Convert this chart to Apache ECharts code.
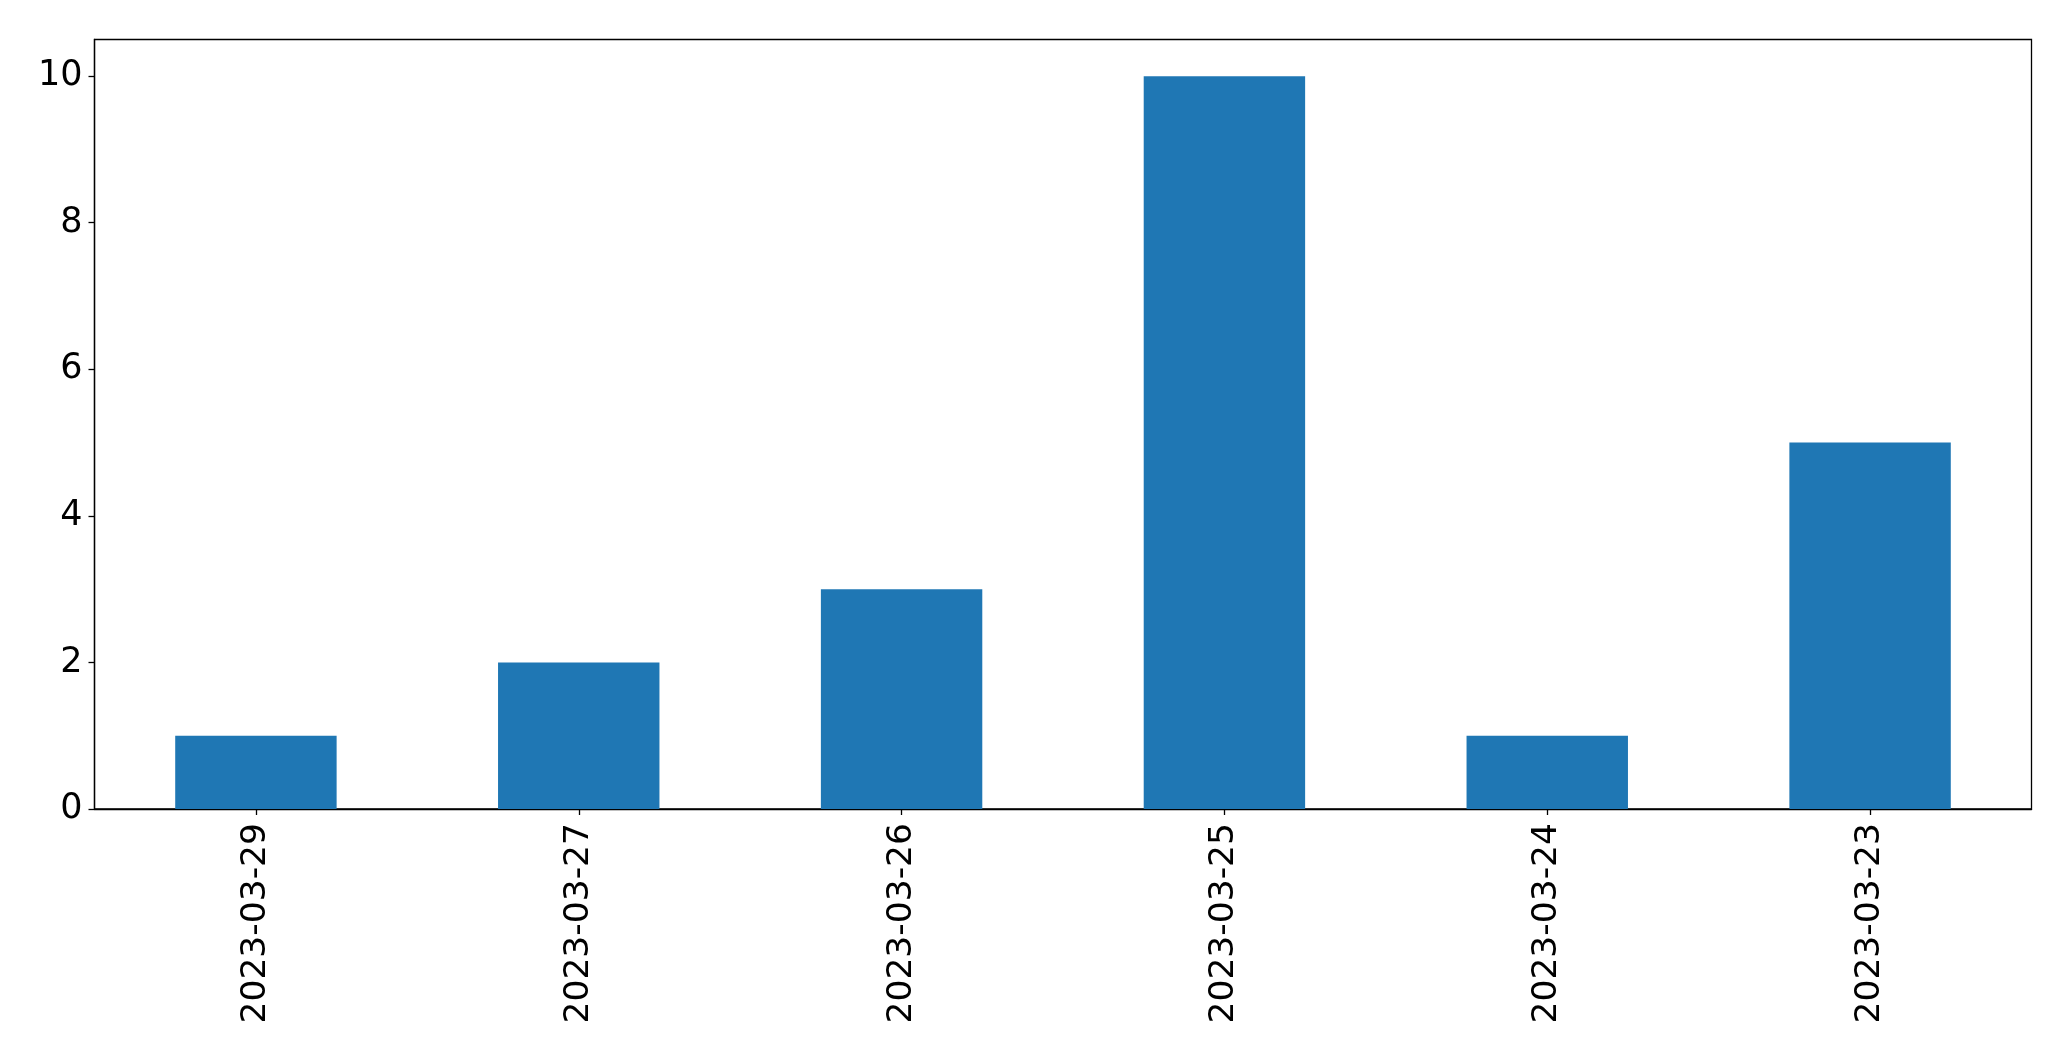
<!DOCTYPE html>
<html>
<head>
<meta charset="utf-8">
<script src="https://cdn.jsdelivr.net/npm/echarts@6/dist/echarts.min.js"></script>
<style>
html,body{margin:0;padding:0;background:#fff;}
#chart{width:2071px;height:1061px;}
</style>
</head>
<body>
<div id="chart"></div>
<script>
const categories = ['2023-03-29','2023-03-27','2023-03-26','2023-03-25','2023-03-24','2023-03-23'];
const values = [1, 2, 3, 10, 1, 5];
const yTicks = [0, 2, 4, 6, 8, 10];

const chart = echarts.init(document.getElementById('chart'), null, {renderer:'canvas'});
const font = 'DejaVu Sans';
chart.setOption({
  animation: false,
  backgroundColor: '#ffffff',
  grid: {
    left: 94.5, top: 39.5, right: 39.5, bottom: 252,
    show: true, borderColor: '#000', borderWidth: 1.3, backgroundColor: 'transparent'
  },
  xAxis: {
    type: 'category',
    data: categories,
    boundaryGap: true,
    axisLine: {show: true, lineStyle: {color: '#000', width: 1.3}},
    axisTick: {show: true, alignWithLabel: true, length: 6, lineStyle: {color: '#000', width: 1.3}},
    axisLabel: {rotate: 90, fontFamily: font, fontSize: 34.5, color: '#000', margin: 14, interval: 0}
  },
  yAxis: {
    type: 'value',
    min: 0, max: 10.5, interval: 2,
    axisLine: {show: true, lineStyle: {color: '#000', width: 1.3}},
    axisTick: {show: true, length: 6, customValues: yTicks, lineStyle: {color: '#000', width: 1.3}},
    splitLine: {show: false},
    axisLabel: {
      fontFamily: font, fontSize: 35, color: '#000', margin: 12,
      customValues: yTicks,
      formatter: function (v) { return yTicks.indexOf(v) >= 0 ? String(v) : ''; }
    }
  },
  series: [{
    type: 'bar',
    data: values,
    barWidth: '50%',
    itemStyle: {color: '#1f77b4'}
  }]
});
</script>
</body>
</html>
